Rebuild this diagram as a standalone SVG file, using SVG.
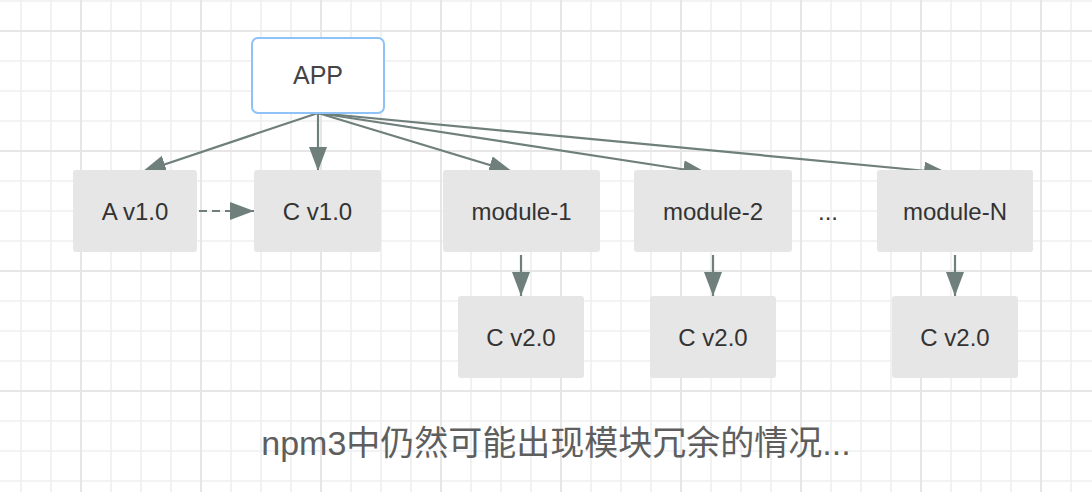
<svg xmlns="http://www.w3.org/2000/svg" width="1092" height="492" viewBox="0 0 1092 492">
<style>
.node{fill:#e6e6e6;}
.lbl{font-family:"Liberation Sans",Arial,sans-serif;font-size:24px;fill:#333;text-anchor:middle;}
.edge{stroke:#6f7f7b;stroke-width:2.2;fill:none;}
</style>
<defs>
<pattern id="gThin" patternUnits="userSpaceOnUse" x="6" y="-14" width="30" height="30">
<path d="M15,0V30M0,15H30" stroke="#efefef" stroke-width="1.7"/>
</pattern>
<pattern id="gThick" patternUnits="userSpaceOnUse" x="21" y="-29" width="120" height="120">
<path d="M60,0V120M0,60H120" stroke="#e6e6e6" stroke-width="2"/>
</pattern>
<marker id="ah" markerUnits="userSpaceOnUse" markerWidth="26" markerHeight="20" refX="24" refY="9" orient="auto">
<path d="M0,0L24,9L0,18z" fill="#6f7f7b"/>
</marker>
</defs>
<rect width="1092" height="492" fill="#ffffff"/>
<rect width="1092" height="492" fill="url(#gThin)"/>
<rect width="1092" height="492" fill="url(#gThick)"/>

<g id="connectors">
<path class="edge" d="M318,113L142,172" marker-end="url(#ah)"/>
<path class="edge" d="M318,113L318,171" marker-end="url(#ah)"/>
<path class="edge" d="M318,113L513,172" marker-end="url(#ah)"/>
<path class="edge" d="M318,113L707,173" marker-end="url(#ah)"/>
<path class="edge" d="M318,113L948,173" marker-end="url(#ah)"/>
<path class="edge" d="M199,211L254,211" stroke-dasharray="8 5" marker-end="url(#ah)"/>
<path class="edge" d="M521,255L521,296" marker-end="url(#ah)"/>
<path class="edge" d="M713,255L713,296" marker-end="url(#ah)"/>
<path class="edge" d="M955,255L955,296" marker-end="url(#ah)"/>
</g>

<g id="app">
<rect x="252" y="38" width="132" height="75" rx="6" fill="#ffffff" stroke="#8fc3f7" stroke-width="2"/>
<text class="lbl" x="318" y="84" style="font-size:25px;fill:#444">APP</text>
</g>
<g id="a-v1">
<rect class="node" x="73" y="170" width="124" height="82" rx="3"/>
<text class="lbl" x="135" y="220">A v1.0</text>
</g>
<g id="c-v1">
<rect class="node" x="254" y="170" width="127" height="82" rx="3"/>
<text class="lbl" x="317.5" y="220">C v1.0</text>
</g>
<g id="module-1">
<rect class="node" x="443" y="170" width="157" height="82" rx="3"/>
<text class="lbl" x="521.5" y="220">module-1</text>
</g>
<g id="module-2">
<rect class="node" x="634" y="170" width="158" height="82" rx="3"/>
<text class="lbl" x="713" y="220">module-2</text>
</g>
<g id="ellipsis">
<text class="lbl" x="828" y="220">...</text>
</g>
<g id="module-N">
<rect class="node" x="877" y="170" width="156" height="82" rx="3"/>
<text class="lbl" x="955" y="220">module-N</text>
</g>
<g id="c-v2-1">
<rect class="node" x="458" y="296" width="126" height="82" rx="3"/>
<text class="lbl" x="521" y="346">C v2.0</text>
</g>
<g id="c-v2-2">
<rect class="node" x="650" y="296" width="126" height="82" rx="3"/>
<text class="lbl" x="713" y="346">C v2.0</text>
</g>
<g id="c-v2-N">
<rect class="node" x="892" y="296" width="126" height="82" rx="3"/>
<text class="lbl" x="955" y="346">C v2.0</text>
</g>
<g id="caption">
<text x="556" y="455" text-anchor="middle" font-family="'Liberation Sans','Noto Sans CJK SC',sans-serif" font-size="34" fill="#5e5e5e">npm3中仍然可能出现模块冗余的情况...</text>
</g>
</svg>
